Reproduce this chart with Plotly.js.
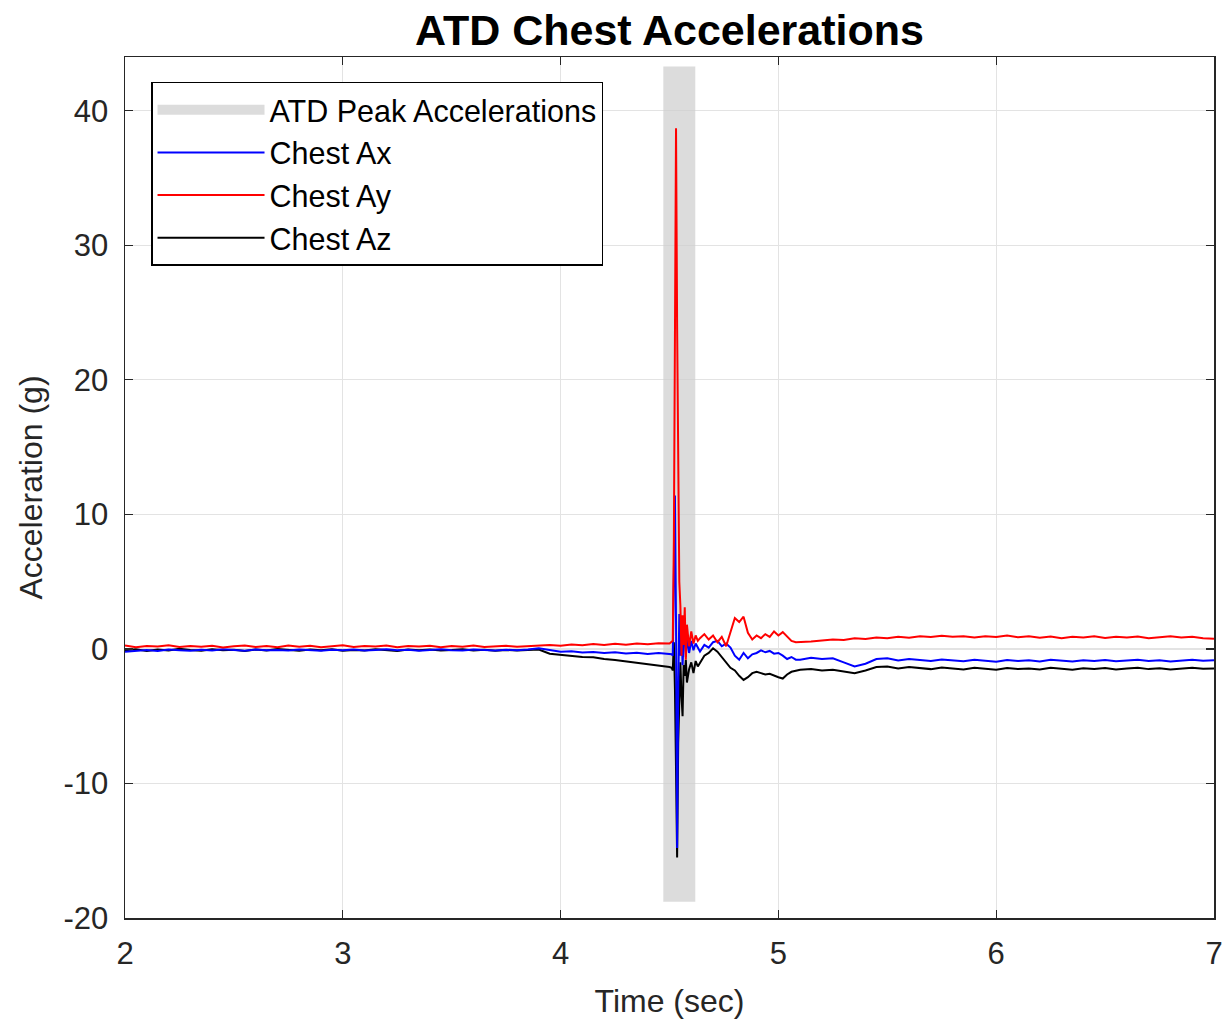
<!DOCTYPE html>
<html>
<head>
<meta charset="utf-8">
<script src="https://cdn.plot.ly/plotly-3.0.1.min.js"></script>
<style>html,body{margin:0;padding:0;background:#fff;}#chart{width:1226px;height:1024px;}</style>
</head>
<body>
<div id="chart"></div>
<script>
// Time (sec)
const time = [
  2.00,2.05,2.10,2.15,2.20,2.25,2.30,2.35,2.40,2.45,
  2.50,2.55,2.60,2.65,2.70,2.75,2.80,2.85,2.90,2.95,
  3.00,3.05,3.10,3.15,3.20,3.25,3.30,3.35,3.40,3.45,
  3.50,3.55,3.60,3.65,3.70,3.75,3.80,3.85,3.90,3.95,
  4.00,4.05,4.10,4.15,4.20,4.25,4.30,4.35,4.40,4.45,
  4.50,4.51,4.515,4.52,4.525,4.53,4.535,4.54,4.545,4.55,
  4.555,4.56,4.565,4.57,4.575,4.58,4.59,4.60,4.61,4.62,4.63,
  4.64,4.66,4.68,4.70,4.72,4.74,4.76,4.78,4.80,4.82,
  4.84,4.86,4.88,4.90,4.92,4.94,4.96,4.98,5.00,5.02,
  5.04,5.06,5.08,
  5.10,5.15,5.20,5.25,5.30,5.35,5.40,5.45,5.50,5.55,
  5.60,5.65,5.70,5.75,5.80,5.85,5.90,5.95,6.00,6.05,
  6.10,6.15,6.20,6.25,6.30,6.35,6.40,6.45,6.50,6.55,
  6.60,6.65,6.70,6.75,6.80,6.85,6.90,6.95,7.00
];

// Chest Ax (g)
const chestAx = [
  -0.20,-0.12,-0.08,-0.15,-0.05,-0.10,-0.14,-0.06,-0.11,-0.03,
  -0.09,-0.13,-0.05,-0.10,-0.07,-0.12,-0.04,-0.09,-0.14,-0.06,
  -0.10,-0.05,-0.12,-0.08,-0.03,-0.10,-0.06,-0.13,-0.07,-0.02,
  -0.09,-0.11,-0.05,-0.08,-0.12,-0.06,-0.10,-0.04,0.05,-0.08,
  -0.20,-0.17,-0.26,-0.22,-0.30,-0.25,-0.34,-0.28,-0.37,-0.30,
  -0.35,-0.40,-0.50,4.0,11.4,2.0,-14.8,-3.0,2.6,-0.5,
  1.8,-1.2,1.0,2.2,-0.6,0.9,-0.3,0.6,-0.1,0.4,0.1,
  -0.20,0.30,0.10,0.50,0.60,0.20,0.40,0.10,-0.50,-0.80,
  -0.30,-0.70,-0.40,-0.30,-0.10,-0.25,-0.15,-0.35,-0.30,-0.50,
  -0.75,-0.60,-0.80,
  -0.80,-0.65,-0.75,-0.70,-1.00,-1.30,-1.10,-0.75,-0.70,-0.85,
  -0.75,-0.80,-0.90,-0.78,-0.85,-0.92,-0.80,-0.88,-0.95,-0.82,
  -0.90,-0.85,-0.93,-0.80,-0.88,-0.94,-0.84,-0.90,-0.82,-0.92,
  -0.86,-0.80,-0.90,-0.84,-0.93,-0.85,-0.80,-0.88,-0.85
];

// Chest Ay (g)
const chestAy = [
  0.25,0.12,0.22,0.18,0.28,0.14,0.21,0.16,0.24,0.11,
  0.20,0.26,0.15,0.22,0.12,0.25,0.17,0.23,0.13,0.20,
  0.27,0.14,0.21,0.18,0.26,0.12,0.22,0.19,0.24,0.13,
  0.21,0.17,0.25,0.14,0.20,0.23,0.16,0.22,0.28,0.30,
  0.24,0.33,0.27,0.36,0.30,0.38,0.32,0.40,0.34,0.42,
  0.40,0.50,0.60,8.0,30.0,38.7,24.0,12.0,5.0,3.2,
  -0.5,2.5,0.3,3.1,-0.8,1.8,0.2,1.3,0.4,1.0,0.6,
  0.8,1.1,0.7,1.0,0.5,0.9,0.2,1.3,2.3,2.0,
  2.4,1.2,0.7,1.0,0.8,1.1,0.9,1.3,1.0,1.25,
  0.9,0.6,0.5,
  0.50,0.55,0.62,0.70,0.66,0.80,0.74,0.85,0.79,0.90,
  0.84,0.95,0.88,0.98,0.90,0.94,0.85,0.95,0.89,1.00,
  0.87,0.95,0.84,0.92,0.80,0.90,0.85,0.95,0.82,0.90,
  0.85,0.93,0.80,0.88,0.95,0.85,0.90,0.80,0.75
];

// Chest Az (g)
const chestAz = [
  -0.10,-0.02,-0.15,-0.05,-0.12,0.02,-0.08,-0.14,-0.03,-0.10,
  -0.06,-0.16,-0.04,-0.11,0.00,-0.09,-0.13,-0.05,-0.10,-0.02,
  -0.14,-0.07,-0.11,-0.03,-0.09,-0.15,-0.05,-0.10,-0.04,-0.12,
  -0.08,-0.02,-0.11,-0.06,-0.14,-0.08,-0.12,-0.10,-0.05,-0.35,
  -0.45,-0.50,-0.60,-0.62,-0.75,-0.82,-0.92,-1.05,-1.15,-1.25,
  -1.35,-1.40,-1.60,0.5,-3.0,-9.0,-15.5,-7.0,-2.5,-1.0,
  -3.5,-5.0,-1.2,-2.0,-0.8,-2.5,-1.5,-1.0,-1.8,-0.9,-1.3,
  -1.05,-0.50,-0.30,0.05,-0.20,-0.60,-1.00,-1.40,-1.60,-2.00,
  -2.30,-2.10,-1.80,-1.70,-1.80,-1.90,-1.85,-2.00,-2.10,-2.20,
  -1.90,-1.70,-1.60,
  -1.55,-1.50,-1.60,-1.55,-1.70,-1.80,-1.60,-1.35,-1.30,-1.45,
  -1.35,-1.42,-1.50,-1.38,-1.45,-1.52,-1.40,-1.48,-1.55,-1.42,
  -1.50,-1.45,-1.53,-1.40,-1.48,-1.54,-1.44,-1.50,-1.42,-1.52,
  -1.46,-1.40,-1.50,-1.44,-1.53,-1.45,-1.40,-1.48,-1.45
];

// ATD peak acceleration marker (time, extent in g)
const peakTime = [4.545, 4.545];
const peakExtent = [-18.8, 43.3];

const xTicks = [2, 3, 4, 5, 6, 7];
const yTicks = [-20, -10, 0, 10, 20, 30, 40];

const FONT = '"Liberation Sans", Arial, Helvetica, sans-serif';

const traces = [
  {x: peakTime, y: peakExtent, type: 'scatter', mode: 'lines', name: 'ATD Peak Accelerations',
   legendrank: 1, line: {color: 'rgba(205,205,205,0.7)', width: 32}},
  {x: time, y: chestAz, type: 'scatter', mode: 'lines', name: 'Chest Az', legendrank: 4,
   line: {color: '#000000', width: 2}},
  {x: time, y: chestAx, type: 'scatter', mode: 'lines', name: 'Chest Ax', legendrank: 2,
   line: {color: '#0000ff', width: 2}},
  {x: time, y: chestAy, type: 'scatter', mode: 'lines', name: 'Chest Ay', legendrank: 3,
   line: {color: '#ff0000', width: 2}}
];

const axisCommon = {
  showline: true, linecolor: '#262626', linewidth: 1.5, mirror: 'ticks',
  ticks: 'inside', ticklen: 8, tickwidth: 1.2, tickcolor: '#262626',
  showgrid: true, gridcolor: '#e3e3e3', gridwidth: 1.2, zeroline: false,
  tickfont: {family: FONT, size: 31, color: '#262626'}
};

const layout = {
  width: 1226, height: 1024,
  paper_bgcolor: '#ffffff', plot_bgcolor: '#ffffff',
  margin: {l: 125, r: 12, t: 57, b: 106},
  title: {text: '<b>ATD Chest Accelerations</b>', font: {family: FONT, size: 43, color: '#000000'},
          x: 0.5, xref: 'paper', xanchor: 'center', y: 0.971, yref: 'container', yanchor: 'middle'},
  xaxis: Object.assign({}, axisCommon, {
    range: [2, 7], tickvals: xTicks, ticktext: xTicks.map(String), ticklabelstandoff: 7,
    title: {text: 'Time (sec)', font: {family: FONT, size: 32, color: '#262626'}, standoff: 20}
  }),
  yaxis: Object.assign({}, axisCommon, {
    range: [-20, 44], tickvals: yTicks, ticktext: yTicks.map(String), ticklabelstandoff: 9,
    title: {text: 'Acceleration (g)', font: {family: FONT, size: 32, color: '#262626'}, standoff: 11}
  }),
  showlegend: true,
  legend: {x: 0.0239, y: 0.971, xanchor: 'left', yanchor: 'top', bgcolor: '#ffffff',
           bordercolor: '#000000', borderwidth: 1.5, itemwidth: 107, traceorder: 'normal',
           font: {family: FONT, size: 30.5, color: '#000000'}, tracegroupgap: 0}
};

Plotly.newPlot('chart', traces, layout, {displayModeBar: false, staticPlot: true});
</script>
</body>
</html>
